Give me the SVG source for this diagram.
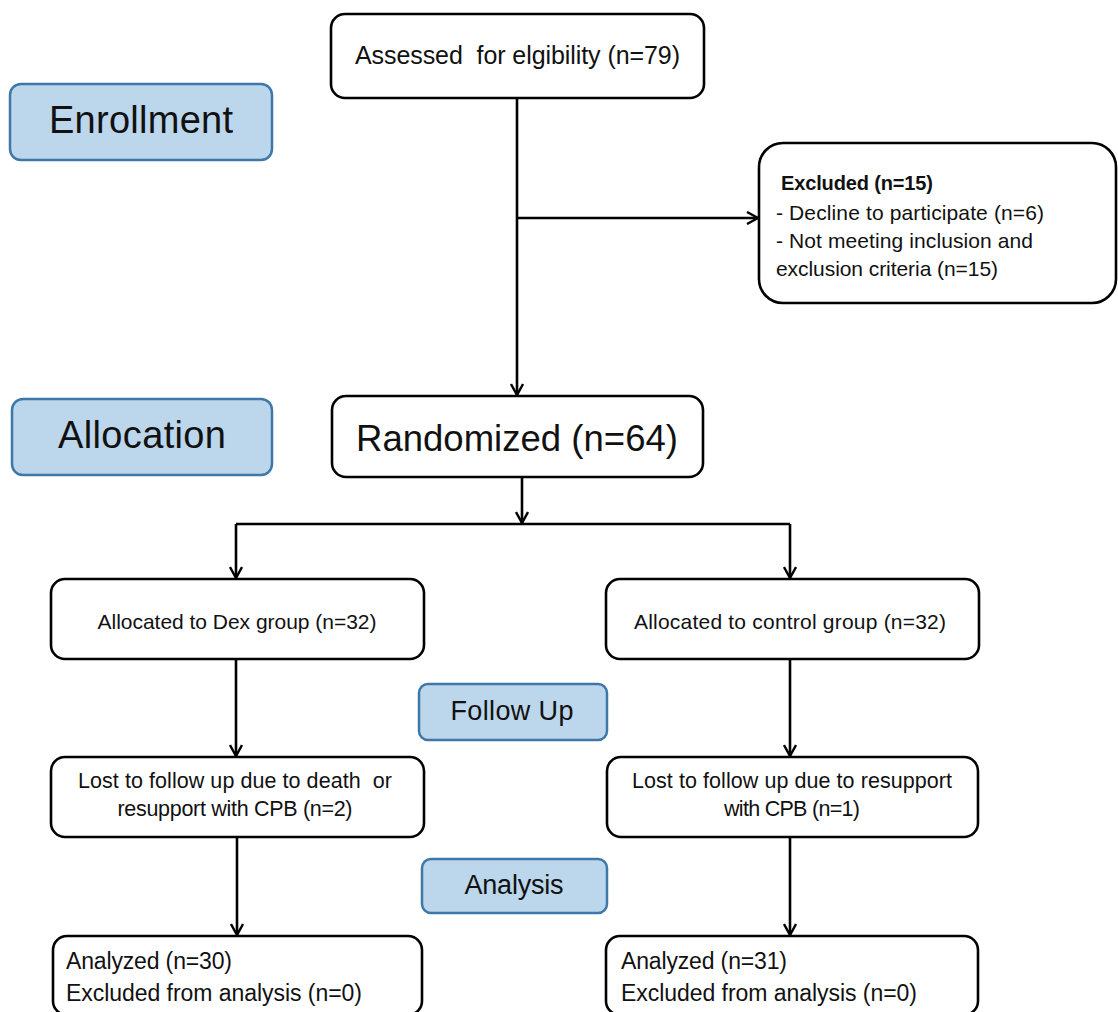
<svg xmlns="http://www.w3.org/2000/svg" width="1118" height="1012" viewBox="0 0 1118 1012">
<style>
.box{fill:#fff;stroke:#000;stroke-width:2.6}
.stage{fill:#bcd6ec;stroke:#3f78a8;stroke-width:2.5}
.t{font-family:"Liberation Sans",Arial,sans-serif;fill:#111;dominant-baseline:central}
.c{text-anchor:middle}
.ln{fill:none;stroke:#000;stroke-width:2.6;marker-end:url(#arr)}
.pl{fill:none;stroke:#000;stroke-width:2.6}
</style>
<defs>
<marker id="arr" viewBox="0 0 14 14" refX="12.5" refY="7" markerWidth="14" markerHeight="14" markerUnits="userSpaceOnUse" orient="auto">
<path d="M1.5,1 L12.5,7 L1.5,13" fill="none" stroke="#000" stroke-width="2.4"/>
</marker>
</defs>
<g id="connectors">
<path class="ln" d="M517,98 V395"/>
<path class="ln" d="M517,218 H758"/>
<path class="ln" d="M522,477 V523"/>
<path class="pl" d="M236,524 H790"/>
<path class="ln" d="M236,524 V578"/>
<path class="ln" d="M790,524 V578"/>
<path class="ln" d="M236,659 V756"/>
<path class="ln" d="M790,659 V756"/>
<path class="ln" d="M237,837 V935"/>
<path class="ln" d="M790,837 V935"/>
</g>
<g id="stage-enrollment">
<rect class="stage" x="10" y="84" width="262" height="76" rx="11"/>
<text class="t c" x="141" y="120" font-size="38" textLength="184">Enrollment</text>
</g>
<g id="stage-allocation">
<rect class="stage" x="12" y="399" width="260" height="76" rx="11"/>
<text class="t c" x="142" y="435" font-size="38" textLength="168">Allocation</text>
</g>
<g id="stage-followup">
<rect class="stage" x="419" y="684" width="188" height="56" rx="9"/>
<text class="t c" x="512" y="711" font-size="27" textLength="123">Follow Up</text>
</g>
<g id="stage-analysis">
<rect class="stage" x="422" y="859" width="185" height="54" rx="9"/>
<text class="t c" x="514" y="885" font-size="27" textLength="99">Analysis</text>
</g>
<g id="assessed">
<rect class="box" x="331" y="14" width="373" height="84" rx="14"/>
<text class="t" x="355" y="55" font-size="25" textLength="325" xml:space="preserve">Assessed  for elgibility (n=79)</text>
</g>
<g id="excluded">
<rect class="box" x="759" y="143" width="357" height="160" rx="24"/>
<text class="t" x="781" y="183" font-size="20" font-weight="bold" textLength="152">Excluded (n=15)</text>
<text class="t" x="776" y="212" font-size="21" textLength="268">- Decline to participate (n=6)</text>
<text class="t" x="776" y="240" font-size="21" textLength="257">- Not meeting inclusion and</text>
<text class="t" x="776" y="268" font-size="21" textLength="222">exclusion criteria (n=15)</text>
</g>
<g id="randomized">
<rect class="box" x="332" y="396" width="371" height="81" rx="14"/>
<text class="t c" x="517" y="438" font-size="36.5" textLength="322">Randomized (n=64)</text>
</g>
<g id="alloc-dex">
<rect class="box" x="51" y="579" width="373" height="80" rx="14"/>
<text class="t c" x="237" y="621" font-size="21" textLength="279">Allocated to Dex group (n=32)</text>
</g>
<g id="alloc-control">
<rect class="box" x="606" y="579" width="373" height="80" rx="14"/>
<text class="t c" x="790" y="621" font-size="21" textLength="312">Allocated to control group (n=32)</text>
</g>
<g id="lost-dex">
<rect class="box" x="51" y="757" width="373" height="80" rx="14"/>
<text class="t c" x="235" y="781" font-size="21.5" textLength="314" xml:space="preserve">Lost to follow up due to death  or</text>
<text class="t c" x="235" y="809" font-size="21.5" textLength="235">resupport with CPB (n=2)</text>
</g>
<g id="lost-control">
<rect class="box" x="607" y="757" width="371" height="80" rx="14"/>
<text class="t c" x="792" y="781" font-size="21.5" textLength="320">Lost to follow up due to resupport</text>
<text class="t c" x="792" y="809" font-size="21.5" textLength="136">with CPB (n=1)</text>
</g>
<g id="analyzed-dex">
<rect class="box" x="53" y="936" width="369" height="79" rx="14"/>
<text class="t" x="66" y="961" font-size="23" textLength="166">Analyzed (n=30)</text>
<text class="t" x="66" y="993" font-size="23" textLength="296">Excluded from analysis (n=0)</text>
</g>
<g id="analyzed-control">
<rect class="box" x="606" y="936" width="372" height="79" rx="14"/>
<text class="t" x="621" y="961" font-size="23" textLength="166">Analyzed (n=31)</text>
<text class="t" x="621" y="993" font-size="23" textLength="296">Excluded from analysis (n=0)</text>
</g>
</svg>
